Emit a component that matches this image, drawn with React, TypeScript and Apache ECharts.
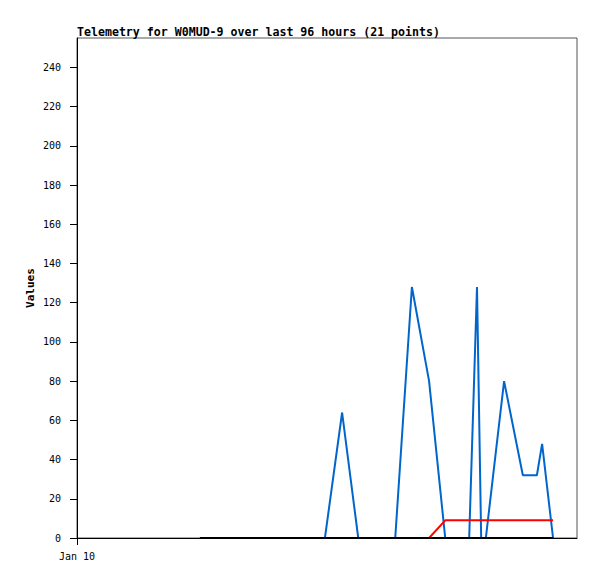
import React, { useEffect, useRef } from "react";
import * as echarts from "echarts";

// hours since Jan 10 00:00
const hours = [23.6, 27.5, 33.4, 40.9, 47.6, 50.9, 54.0, 57.4, 61.1, 64.3, 67.6, 70.7, 75.3, 76.8, 77.6, 78.5, 82.0, 85.6, 88.3, 89.3, 91.4];
const blueValues = [0, 0, 0, 0, 0, 64, 0, 0, 0, 128, 80, 0, 0, 128, 0, 0, 80, 32, 32, 48, 0];
const redValues = [0, 0, 0, 0, 0, 0, 0, 0, 0, 0, 0, 9, 9, 9, 9, 9, 9, 9, 9, 9, 9];
const blackValues = [0, 0, 0, 0, 0, 0, 0, 0, 0, 0, 0, 0, 0, 0, 0, 0, 0, 0, 0, 0, 0];
const xTickValues = [0];
const xLabel = "Jan 10";
const title = "Telemetry for W0MUD-9 over last 96 hours (21 points)";

const font = "'DejaVu Sans Mono', 'Liberation Mono', monospace";

export default function App() {
  const ref = useRef<HTMLDivElement>(null);
  useEffect(() => {
    if (!ref.current) return;
    const chart = echarts.init(ref.current, undefined, { renderer: "svg" });
    const pair = (vals: number[]) => hours.map((h, i) => [h, vals[i]]);
    chart.setOption({
      animation: false,
      backgroundColor: "#fff",
      title: {
        text: title,
        left: 77,
        top: 26,
        padding: 0,
        textStyle: { fontFamily: font, fontSize: 11.6, fontWeight: "bold", color: "#000" },
      },
      grid: {
        left: 77,
        top: 38,
        width: 500,
        height: 500,
        show: true,
        borderColor: "#555",
        borderWidth: 1,
        backgroundColor: "transparent",
      },
      xAxis: {
        type: "value",
        min: 0,
        max: 96,
        interval: 96,
        axisLine: { show: true, onZero: false, lineStyle: { color: "#000", width: 1 } },
        axisTick: { show: true, length: 7, customValues: xTickValues, lineStyle: { color: "#000" } },
        splitLine: { show: false },
        axisLabel: {
          fontFamily: font,
          fontSize: 10,
          color: "#000",
          margin: 13,
          customValues: xTickValues,
          formatter: (v: number) => (v === 0 ? xLabel : ""),
        },
      },
      yAxis: {
        type: "value",
        min: 0,
        max: 255,
        interval: 20,
        name: "Values",
        nameLocation: "middle",
        nameGap: 41,
        nameMoveOverlap: false,
        nameTextStyle: { fontFamily: font, fontSize: 11, fontWeight: "bold", color: "#000" },
        axisLine: { show: true, lineStyle: { color: "#000", width: 1 } },
        axisTick: { show: true, length: 7, lineStyle: { color: "#000" } },
        splitLine: { show: false },
        axisLabel: {
          fontFamily: font,
          fontSize: 10,
          color: "#000",
          margin: 16,
          showMaxLabel: false,
        },
      },
      series: [
        {
          type: "line",
          data: pair(blueValues),
          symbol: "none",
          lineStyle: { color: "#0066cc", width: 2 },
        },
        {
          type: "line",
          data: pair(redValues),
          symbol: "none",
          lineStyle: { color: "#ff0000", width: 2 },
        },
        {
          type: "line",
          data: pair(blackValues),
          symbol: "none",
          lineStyle: { color: "#000000", width: 2 },
        },
      ],
    });
    return () => chart.dispose();
  }, []);
  return (
    <div
      ref={ref}
      style={{ position: "absolute", left: 0, top: 0, width: 597, height: 579 }}
    />
  );
}
